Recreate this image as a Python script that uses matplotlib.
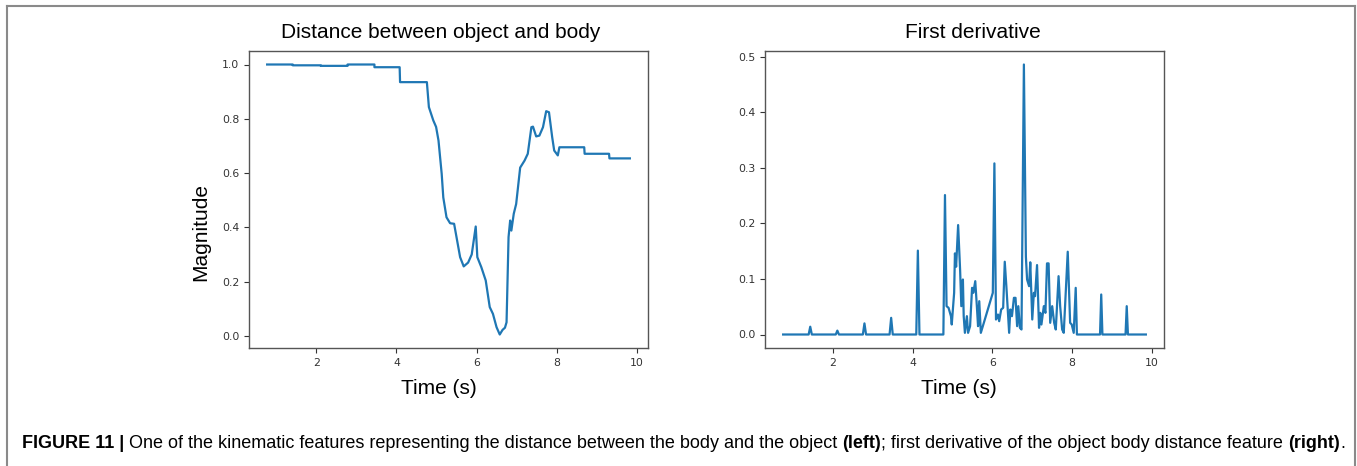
import matplotlib
matplotlib.use('Agg')
import matplotlib.pyplot as plt
from matplotlib import font_manager
from matplotlib.lines import Line2D

# distance between object and body (left panel)
dist_t = [0.77, 1.41, 1.41, 2.11, 2.11, 2.78, 2.78, 3.45, 3.45, 4.08, 4.09,
          4.76, 4.81, 4.92, 4.99, 5.05, 5.13, 5.17, 5.25, 5.34, 5.44, 5.50,
          5.59, 5.68, 5.79, 5.88, 5.98, 6.02, 6.12, 6.23, 6.33, 6.41, 6.50,
          6.58, 6.65, 6.71, 6.75, 6.80, 6.84, 6.87, 6.93, 6.99, 7.09, 7.20,
          7.28, 7.37, 7.41, 7.49, 7.57, 7.66, 7.74, 7.81, 7.89, 7.94, 8.03,
          8.07, 8.69, 8.70, 9.31, 9.32, 9.83]
dist_v = [1.000, 1.000, 0.997, 0.997, 0.995, 0.995, 1.000, 1.000, 0.990, 0.990,
          0.935, 0.935, 0.843, 0.794, 0.770, 0.720, 0.597, 0.510, 0.437, 0.415,
          0.413, 0.364, 0.290, 0.256, 0.270, 0.300, 0.403, 0.290, 0.253, 0.204,
          0.106, 0.081, 0.032, 0.005, 0.022, 0.030, 0.050, 0.364, 0.425, 0.388,
          0.450, 0.486, 0.620, 0.646, 0.671, 0.769, 0.771, 0.735, 0.738, 0.769,
          0.828, 0.824, 0.732, 0.683, 0.665, 0.695, 0.695, 0.671, 0.671, 0.654,
          0.654]

# first derivative (right panel)
der_t = [0.75, 1.39, 1.43, 1.47, 2.07, 2.11, 2.15, 2.75, 2.79, 2.83, 3.42,
         3.46, 3.50, 4.09, 4.13, 4.17, 4.77, 4.81, 4.85, 4.90, 4.96, 4.98,
         5.04, 5.06, 5.09, 5.14, 5.19, 5.22, 5.26, 5.28, 5.31, 5.36, 5.39,
         5.44, 5.49, 5.52, 5.57, 5.61, 5.64, 5.67, 5.71, 6.01, 6.05, 6.09,
         6.14, 6.17, 6.22, 6.27, 6.31, 6.35, 6.42, 6.45, 6.49, 6.54, 6.58,
         6.62, 6.65, 6.69, 6.73, 6.79, 6.84, 6.87, 6.92, 6.95, 7.00, 7.04,
         7.07, 7.12, 7.17, 7.20, 7.23, 7.29, 7.33, 7.37, 7.41, 7.45, 7.50,
         7.55, 7.59, 7.66, 7.70, 7.75, 7.79, 7.89, 7.95, 7.99, 8.04, 8.09,
         8.12, 8.70, 8.73, 8.76, 9.34, 9.37, 9.40, 9.85]
der_v = [0.0, 0.0, 0.014, 0.0, 0.0, 0.007, 0.0, 0.0, 0.020, 0.0, 0.0,
         0.030, 0.0, 0.0, 0.151, 0.0, 0.0, 0.251, 0.051, 0.048, 0.033, 0.018,
         0.075, 0.146, 0.122, 0.197, 0.116, 0.051, 0.099, 0.033, 0.003, 0.033,
         0.003, 0.015, 0.084, 0.075, 0.096, 0.051, 0.015, 0.060, 0.003, 0.075,
         0.308, 0.027, 0.036, 0.024, 0.045, 0.048, 0.131, 0.087, 0.003, 0.045,
         0.033, 0.066, 0.066, 0.015, 0.051, 0.012, 0.009, 0.486, 0.140, 0.099,
         0.087, 0.130, 0.027, 0.075, 0.069, 0.125, 0.012, 0.039, 0.018, 0.051,
         0.039, 0.128, 0.128, 0.021, 0.051, 0.021, 0.009, 0.105, 0.051, 0.009,
         0.003, 0.149, 0.021, 0.018, 0.003, 0.084, 0.0, 0.0, 0.072, 0.0, 0.0,
         0.051, 0.0, 0.0]

titles = ['Distance between object and body', 'First derivative']
caption = [('FIGURE 11 | ', 'bold'),
           ('One of the kinematic features representing the distance between the body and the object ', 'normal'),
           ('(left)', 'bold'),
           ('; first derivative of the object body distance feature ', 'normal'),
           ('(right)', 'bold'),
           ('.', 'normal')]

names = {f.name for f in font_manager.fontManager.ttflist}
label_font = 'Liberation Sans'
cap_font = 'Liberation Sans Narrow' if 'Liberation Sans Narrow' in names else 'Liberation Sans'
cap_size = 15.5 if cap_font == 'Liberation Sans Narrow' else 13.0

W, H = 1357, 466
fig = plt.figure(figsize=(W / 100, H / 100), dpi=100)

# grey frame round the figure (bottom edge is cut off)
frame = dict(color='#8a8a8a', lw=1.5)
fig.add_artist(Line2D([7 / W, 7 / W], [0, 1 - 6 / H], **frame))
fig.add_artist(Line2D([7 / W, 1355 / W], [1 - 6 / H, 1 - 6 / H], **frame))
fig.add_artist(Line2D([1355 / W, 1355 / W], [0, 1 - 6 / H], **frame))

ax1 = fig.add_axes([249 / W, 1 - 348 / H, 399 / W, 297 / H])
ax2 = fig.add_axes([765 / W, 1 - 348 / H, 399 / W, 297 / H])

ax1.plot(dist_t, dist_v, color='#1f77b4', lw=1.6)
ax2.plot(der_t, der_v, color='#1f77b4', lw=1.6)

ax1.set_yticks([0.0, 0.2, 0.4, 0.6, 0.8, 1.0])
ax2.set_yticks([0.0, 0.1, 0.2, 0.3, 0.4, 0.5])
for ax in (ax1, ax2):
    ax.set_xticks([2, 4, 6, 8, 10])
    ax.tick_params(labelsize=7.8, colors='#333333', length=3.5, width=0.8)
    for s in ax.spines.values():
        s.set_color('#555555')
        s.set_linewidth(1.0)

fig.text(441 / W, 1 - 33 / H, titles[0], fontsize=15, family=label_font,
         ha='center', va='center')
fig.text(973 / W, 1 - 33 / H, titles[1], fontsize=15, family=label_font,
         ha='center', va='center')
fig.text(201 / W, 1 - 232 / H, 'Magnitude', fontsize=15, family=label_font,
         rotation=90, ha='center', va='center')
fig.text(439 / W, 1 - 389 / H, 'Time (s)', fontsize=15, family=label_font,
         ha='center', va='center')
fig.text(959 / W, 1 - 389 / H, 'Time (s)', fontsize=15, family=label_font,
         ha='center', va='center')

# caption, written piece by piece so bold parts sit inline
fig.canvas.draw()
r = fig.canvas.get_renderer()
x = 22
for txt, wt in caption:
    t = fig.text(x / W, 1 - 443 / H, txt, fontsize=cap_size, family=cap_font,
                 weight=wt, ha='left', va='center')
    x += t.get_window_extent(r).width

fig.savefig('out.png', dpi=100)
